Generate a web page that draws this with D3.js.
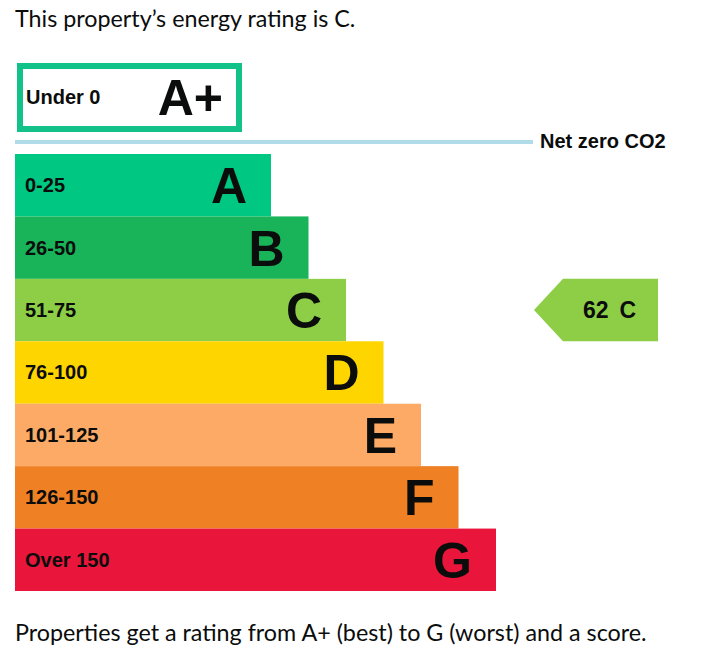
<!DOCTYPE html>
<html>
<head>
<meta charset="utf-8">
<style>
  body { margin: 0; background: #fff; }
  svg { display: block; }
</style>
</head>
<body>
<script src="https://cdn.jsdelivr.net/npm/d3@7"></script>
<script>
  // EPC bands, best to worst
  var bands = ["A", "B", "C", "D", "E", "F", "G"];
  var ranges = ["0-25", "26-50", "51-75", "76-100", "101-125", "126-150", "Over 150"];
  var upperScores = [25, 50, 75, 100, 125, 150, 175];
  var bandColors = ["#00c781", "#19b459", "#8dce46", "#ffd500", "#fcaa65", "#ef8023", "#e9153b"];

  var currentScore = 62;
  var currentBand = "C";
  var topBand = "A+";
  var topRange = "Under 0";
  var netZeroLabel = "Net zero CO2";
  var headline = "This property\u2019s energy rating is C.";
  var footnote = "Properties get a rating from A+ (best) to G (worst) and a score.";

  var width = 708, height = 657;
  var left = 15;

  var svg = d3.select("body").append("svg")
      .attr("width", width).attr("height", height);

  var y = d3.scaleBand().domain(bands).range([154, 591]).padding(0);
  var x = d3.scaleLinear().domain([25, 175]).range([271, 496]);

  var bold = "Arial, 'Liberation Sans', sans-serif";
  var plain = "Lato, 'Noto Sans', sans-serif";

  // headline
  svg.append("text")
      .attr("x", left).attr("y", 27)
      .attr("font-family", plain).attr("font-size", 23.3)
      .attr("fill", "#0b0c0c")
      .text(headline);

  // A+ box
  svg.append("rect")
      .attr("x", 20).attr("y", 66)
      .attr("width", 219).attr("height", 63)
      .attr("fill", "#fff")
      .attr("stroke", "#12c288").attr("stroke-width", 6);
  svg.append("text")
      .attr("x", 26).attr("y", 104)
      .attr("font-family", bold).attr("font-weight", "bold").attr("font-size", 20)
      .attr("fill", "#0b0c0c")
      .text(topRange);
  svg.append("text")
      .attr("x", 223).attr("y", 115)
      .attr("text-anchor", "end")
      .attr("font-family", bold).attr("font-weight", "bold").attr("font-size", 50)
      .attr("fill", "#0b0c0c")
      .text(topBand);

  // net zero line
  svg.append("line")
      .attr("x1", left).attr("x2", 533)
      .attr("y1", 142).attr("y2", 142)
      .attr("stroke", "#b1dbe9").attr("stroke-width", 4);
  svg.append("text")
      .attr("x", 540).attr("y", 148)
      .attr("font-family", bold).attr("font-weight", "bold").attr("font-size", 20)
      .attr("fill", "#0b0c0c")
      .text(netZeroLabel);

  // band bars
  var rows = svg.selectAll("g.band")
      .data(bands)
      .enter().append("g")
      .attr("class", "band")
      .attr("transform", function (d) { return "translate(0," + y(d) + ")"; });

  rows.append("rect")
      .attr("x", left)
      .attr("width", function (d, i) { return x(upperScores[i]) - left; })
      .attr("height", y.bandwidth())
      .attr("fill", function (d, i) { return bandColors[i]; });

  rows.append("text")
      .attr("x", 25)
      .attr("y", y.bandwidth() / 2 + 7)
      .attr("font-family", bold).attr("font-weight", "bold").attr("font-size", 20)
      .attr("fill", "#0b0c0c")
      .text(function (d, i) { return ranges[i]; });

  rows.append("text")
      .attr("x", function (d, i) { return x(upperScores[i]) - 24; })
      .attr("y", y.bandwidth() / 2 + 18)
      .attr("text-anchor", "end")
      .attr("font-family", bold).attr("font-weight", "bold").attr("font-size", 50)
      .attr("fill", "#0b0c0c")
      .text(function (d) { return d; });

  // current rating arrow
  var ci = bands.indexOf(currentBand);
  var ay0 = y(currentBand), ay1 = ay0 + y.bandwidth(), amid = ay0 + y.bandwidth() / 2;
  var arrowPts = [[534, amid], [563, ay0], [658, ay0], [658, ay1], [563, ay1]];
  svg.append("path")
      .attr("d", d3.line()(arrowPts) + "Z")
      .attr("fill", bandColors[ci]);
  var at = svg.append("text")
      .attr("x", 583).attr("y", amid + 8)
      .attr("font-family", bold).attr("font-weight", "bold").attr("font-size", 23)
      .attr("fill", "#0b0c0c");
  at.append("tspan").text(currentScore);
  at.append("tspan").attr("dx", 11).text(currentBand);

  // footnote
  svg.append("text")
      .attr("x", left).attr("y", 641)
      .attr("font-family", plain).attr("font-size", 23.3)
      .attr("fill", "#0b0c0c")
      .text(footnote);
</script>
</body>
</html>
